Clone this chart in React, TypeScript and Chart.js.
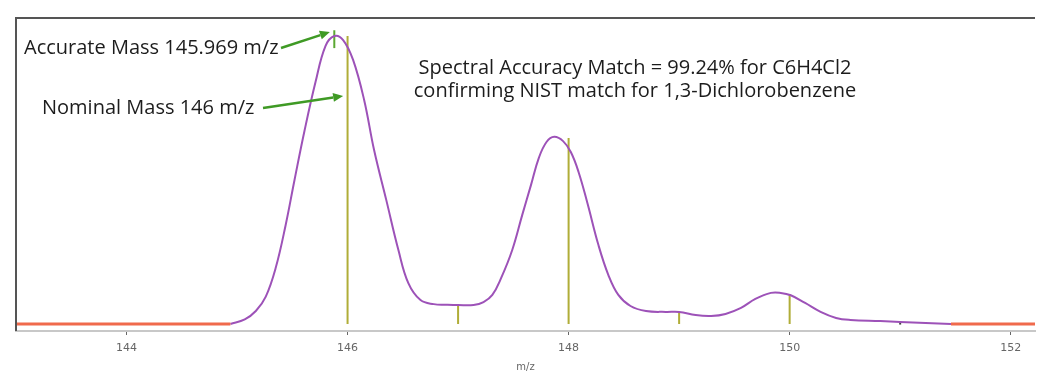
import React, { useEffect, useRef } from "react";
import { Chart, registerables } from "chart.js";

Chart.register(...registerables);

// m/z positions of the measured profile (purple trace)
const PROFILE_MZ = [
  144.94, 145.07, 145.17, 145.26, 145.35, 145.44, 145.52, 145.61, 145.71, 145.8, 145.88,
  145.96, 146.05, 146.15, 146.24, 146.35, 146.46, 146.55, 146.66, 146.78, 146.9, 147.0, 147.14,
  147.23, 147.31, 147.39, 147.49, 147.58, 147.66, 147.73, 147.8, 147.87, 147.95, 148.02,
  148.09, 148.17, 148.27, 148.36, 148.45, 148.56, 148.7, 148.88, 149.0, 149.15, 149.29,
  149.42, 149.56, 149.69, 149.83, 149.92, 150.01, 150.14, 150.28, 150.42, 150.55, 150.82,
  151.0, 151.23, 151.46,
];
// relative intensity (%) of the profile
const PROFILE_INT = [
  0, 1.6, 4.5, 9.5, 19.5, 34.4, 50, 67, 84, 96.5, 100,
  98.6, 91.7, 77.8, 60.4, 43.1, 25.7, 14.2, 8.3, 6.9, 6.7, 6.6, 6.6,
  7.6, 10.1, 16, 25.7, 37.8, 48.3, 57.6, 63.2, 65, 63.5, 59.7,
  52.8, 42, 27.4, 17, 10.1, 6.25, 4.5, 4.2, 4.2, 3.1, 2.8,
  3.5, 5.6, 8.7, 10.8, 10.8, 10.0, 7.3, 4.2, 2.1, 1.4, 1.0,
  0.7, 0.35, 0,
];

// baseline trace (red), visible outside the profile
const BASELINE_MZ = [143.0, 144.94, null, 151.46, 152.22];
const BASELINE_INT = [0, 0, null, 0, 0];

// theoretical isotope sticks (olive)
const STICK_MZ = [146, 147, 148, 149, 150];
const STICK_INT = [100, 6.6, 64.6, 4.2, 10.4];

// minor stick (dark)
const MINOR_MZ = [151];
const MINOR_INT = [0.8];

// accurate mass marker (green)
const ACCURATE_MZ = [145.88];
const ACCURATE_RANGE = [95.8, 102];

const X_TICKS = [144, 146, 148, 150, 152];
const X_MIN = 143.0;
const X_MAX = 152.22;
const Y_MIN = -2.43;
const Y_MAX = 106.6;
const X_TITLE = "m/z";

const LABEL_ACCURATE = "Accurate Mass 145.969 m/z";
const LABEL_NOMINAL = "Nominal Mass 146 m/z";
const MATCH_LINE1 = "Spectral Accuracy Match = 99.24% for C6H4Cl2";
const MATCH_LINE2 = "confirming NIST match for 1,3-Dichlorobenzene";

function sticks(xs: number[], ys: number[], base = 0) {
  const out: any[] = [];
  xs.forEach((x, i) => {
    out.push({ x, y: base });
    out.push({ x, y: ys[i] });
    out.push({ x, y: null });
  });
  return out;
}

function arrow(ctx: CanvasRenderingContext2D, x0: number, y0: number, x1: number, y1: number, color: string) {
  const ang = Math.atan2(y1 - y0, x1 - x0);
  const head = 10;
  const hw = 4.5;
  const bx = x1 - head * Math.cos(ang);
  const by = y1 - head * Math.sin(ang);
  ctx.save();
  ctx.strokeStyle = color;
  ctx.fillStyle = color;
  ctx.lineWidth = 2.5;
  ctx.beginPath();
  ctx.moveTo(x0, y0);
  ctx.lineTo(bx, by);
  ctx.stroke();
  ctx.beginPath();
  ctx.moveTo(x1, y1);
  ctx.lineTo(bx + hw * Math.sin(ang), by - hw * Math.cos(ang));
  ctx.lineTo(bx - hw * Math.sin(ang), by + hw * Math.cos(ang));
  ctx.closePath();
  ctx.fill();
  ctx.restore();
}

const framePlugin = {
  id: "frameAndNotes",
  afterDatasetsDraw(chart: any) {
    const { ctx, chartArea, scales } = chart;
    const xs = scales.x;
    const ys = scales.y;
    ctx.save();
    ctx.strokeStyle = "#555555";
    ctx.lineWidth = 2;
    ctx.beginPath();
    ctx.moveTo(chartArea.left, chartArea.bottom);
    ctx.lineTo(chartArea.left, chartArea.top + 1);
    ctx.lineTo(chartArea.right, chartArea.top + 1);
    ctx.stroke();

    ctx.fillStyle = "#1c1c1c";
    ctx.textBaseline = "alphabetic";
    ctx.textAlign = "left";
    ctx.font = "20px 'Open Sans'";
    ctx.fillText(LABEL_ACCURATE, 24, 54);
    ctx.fillText(LABEL_NOMINAL, 42, 114);
    ctx.textAlign = "center";
    ctx.fillText(MATCH_LINE1, 635, 74);
    ctx.fillText(MATCH_LINE2, 635, 97);

    const green = "#3f9a25";
    arrow(ctx, 281, 48, xs.getPixelForValue(145.84), ys.getPixelForValue(101.4), green);
    arrow(ctx, 263, 108, xs.getPixelForValue(145.96), ys.getPixelForValue(79.2), green);
    ctx.restore();
  },
};

export default function App() {
  const ref = useRef<HTMLCanvasElement>(null);
  useEffect(() => {
    if (!ref.current) return;
    const chart = new Chart(ref.current, {
      type: "line",
      data: {
        datasets: [
          {
            label: "baseline",
            data: BASELINE_MZ.map((x, i) => ({ x, y: BASELINE_INT[i] })),
            borderColor: "#f06a4c",
            borderWidth: 3,
            pointRadius: 0,
            spanGaps: false,
            order: 0,
          },
          {
            label: "profile",
            data: PROFILE_MZ.map((x, i) => ({ x, y: PROFILE_INT[i] })),
            borderColor: "#9d52b8",
            borderWidth: 2,
            pointRadius: 0,
            tension: 0.4,
            order: 1,
          },
          {
            label: "sticks",
            data: sticks(STICK_MZ, STICK_INT),
            borderColor: "#b0ad38",
            borderWidth: 2,
            pointRadius: 0,
            spanGaps: false,
            order: 2,
          },
          {
            label: "minor",
            data: sticks(MINOR_MZ, MINOR_INT, -0.2),
            borderColor: "#444444",
            borderWidth: 2,
            pointRadius: 0,
            spanGaps: false,
            order: 3,
          },
          {
            label: "accurate",
            data: sticks(ACCURATE_MZ, [ACCURATE_RANGE[1]], ACCURATE_RANGE[0]),
            borderColor: "#5ba832",
            borderWidth: 2,
            pointRadius: 0,
            spanGaps: false,
            order: 4,
          },
        ],
      },
      options: {
        responsive: false,
        animation: false,
        events: [],
        layout: { padding: { left: 16, top: 17, right: 12, bottom: 0 } },
        plugins: { legend: { display: false }, tooltip: { enabled: false }, title: { display: false } },
        scales: {
          x: {
            type: "linear",
            min: X_MIN,
            max: X_MAX,
            afterBuildTicks: (s: any) => {
              s.ticks = X_TICKS.map((v) => ({ value: v }));
            },
            afterFit: (s: any) => {
              s.height = 45;
            },
            grid: { display: true, drawOnChartArea: false, drawTicks: true, tickLength: 4, color: "#666666", lineWidth: 1 },
            border: { display: true, color: "#c8c8c8", width: 2 },
            ticks: {
              color: "#666666",
              font: { family: "'DejaVu Sans'", size: 11 },
              padding: 7,
              maxRotation: 0,
              autoSkip: false,
            },
            title: {
              display: true,
              text: X_TITLE,
              color: "#666666",
              font: { family: "'DejaVu Sans'", size: 10 },
              padding: { top: 0, bottom: 3 },
            },
          },
          y: {
            type: "linear",
            display: false,
            min: Y_MIN,
            max: Y_MAX,
          },
        },
      },
      plugins: [framePlugin],
    } as any);
    return () => chart.destroy();
  }, []);
  return (
    <div style={{ position: "absolute", left: 0, top: 0, width: 1047, height: 376, background: "#fff" }}>
      <canvas ref={ref} width={1047} height={376} />
    </div>
  );
}
